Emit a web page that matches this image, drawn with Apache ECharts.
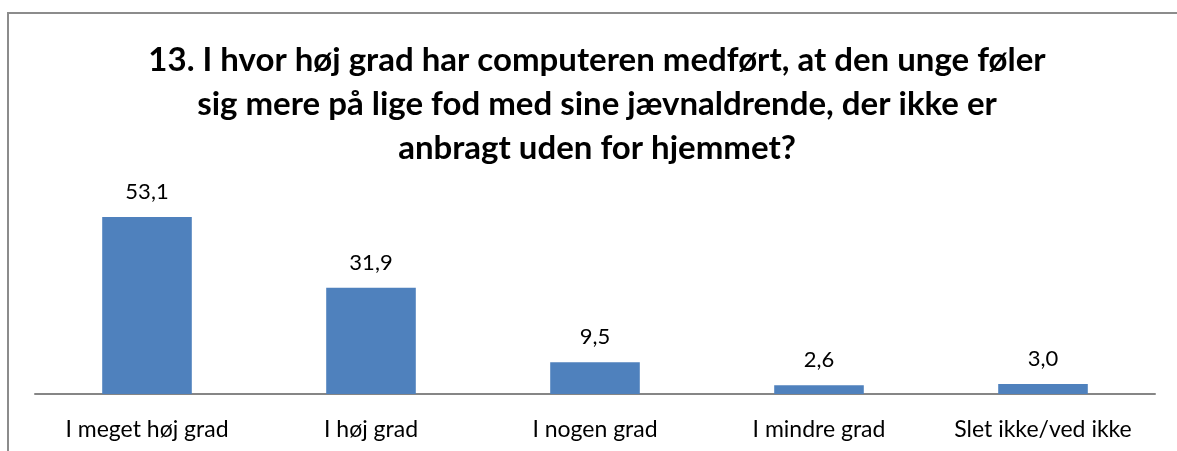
<!DOCTYPE html>
<html>
<head>
<meta charset="utf-8">
<script src="https://cdn.jsdelivr.net/npm/echarts@6/dist/echarts.min.js"></script>
<style>
  html, body { margin: 0; padding: 0; background: #fff; }
  #chart { width: 1177px; height: 451px; }
</style>
</head>
<body>
<div id="chart"></div>
<script>
// chart data
var categories = ['I meget høj grad', 'I høj grad', 'I nogen grad', 'I mindre grad', 'Slet ikke/ved ikke'];
var values = [53.1, 31.9, 9.5, 2.6, 3.0];
var titleText = '13. I hvor høj grad har computeren medført, at den unge føler\nsig mere på lige fod med sine jævnaldrende, der ikke er\nanbragt uden for hjemmet?';

var font = 'Lato';

var myChart = echarts.init(document.getElementById('chart'));
var option = {
    animation: false,
    title: {
        text: titleText,
        left: 592,
        top: 33,
        textAlign: 'center',
        textStyle: {
            fontFamily: font,
            fontSize: 33,
            fontWeight: 'bold',
            color: '#000',
            lineHeight: 44
        }
    },
    //外框
    graphic: [{
        type: 'rect',
        shape: { x: 8, y: 13, width: 1300, height: 600 },
        style: { fill: 'none', stroke: '#8c8c8c', lineWidth: 2 },
        silent: true
    }],
    grid: {
        left: 35,
        width: 1120,
        top: 194,
        height: 200
    },
    xAxis: {
        type: 'category',
        data: categories,
        axisLine: { lineStyle: { color: '#868686', width: 2 } },
        axisTick: { show: false },
        axisLabel: {
            margin: 24,
            fontFamily: font,
            fontSize: 23,
            color: '#000',
            interval: 0
        }
    },
    yAxis: {
        type: 'value',
        min: 0,
        max: 60,
        show: false,
        splitLine: { show: false }
    },
    series: [{
        type: 'bar',
        data: values,
        barWidth: '40%',
        itemStyle: { color: '#4F81BD' },
        label: {
            show: true,
            position: 'top',
            distance: 14,
            fontFamily: font,
            fontSize: 22,
            color: '#000',
            formatter: function (p) {
                return p.value.toFixed(1).replace('.', ',');
            }
        }
    }]
};
myChart.setOption(option);
</script>
</body>
</html>
